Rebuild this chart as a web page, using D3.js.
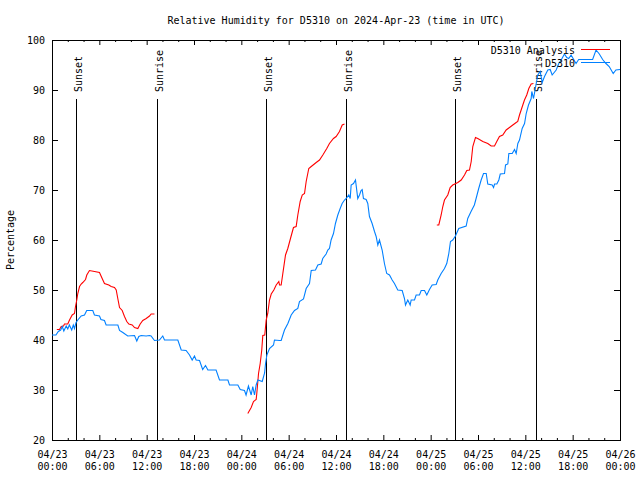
<!DOCTYPE html>
<html><head><meta charset="utf-8">
<script src="https://cdn.jsdelivr.net/npm/d3@7"></script>
<style>
body{margin:0;background:#fff}
svg{display:block}
text{font-family:"DejaVu Sans Mono",monospace;font-size:10px;fill:#000}
</style>
</head><body><svg id="c" width="640" height="480"></svg>
<script>
const title = "Relative Humidity for D5310 on 2024-Apr-23 (time in UTC)";
const yLabel = "Percentage";
const startTime = "2024-04-23T00:00:00Z";
const endTime = "2024-04-26T00:00:00Z";
const yTicks = [20, 30, 40, 50, 60, 70, 80, 90, 100];
const seriesNames = ["D5310 Analysis", "D5310"];
const seriesColors = ["#ff0000", "#0080ff"];
// sun events: hours after start
const sunHours = [2.98, 13.28, 27.1, 37.24, 51.06, 61.33];
const sunLabels = ["Sunset", "Sunrise", "Sunset", "Sunrise", "Sunset", "Sunrise"];

// observed D5310: [hours after start, RH %]
const obsSeries = [[0,41.0],[0.5,41.0],[0.8,41.7],[1.1,42.0],[1.3,42.7],[1.5,41.8],[1.8,42.8],[2.0,42.2],[2.2,43.0],[2.5,42.0],[2.7,43.0],[2.85,42.3],[3.05,43.5],[3.27,44.0],[3.7,44.8],[4.12,45.0],[4.4,45.9],[5.17,45.9],[5.38,45.0],[6.02,44.8],[6.2,44.1],[6.65,43.9],[6.86,43.0],[7.7,43.0],[8.35,43.0],[8.56,41.9],[8.98,41.5],[9.6,40.8],[10.46,40.9],[10.75,39.8],[11.0,40.7],[11.3,40.9],[11.93,40.8],[12.36,40.9],[12.56,40.8],[12.99,39.9],[13.62,40.0],[14.04,40.8],[14.26,40.0],[15.95,40.0],[16.38,38.0],[17.0,37.9],[17.43,37.0],[17.77,36.0],[18.06,36.8],[18.27,36.0],[18.7,35.9],[19.1,34.1],[19.46,34.9],[19.76,34.0],[20.8,34.0],[21.23,32.0],[22.3,32.0],[22.5,31.0],[23.56,31.0],[23.86,30.1],[24.4,29.9],[24.6,29.0],[24.9,30.8],[25.25,29.0],[25.45,30.7],[25.67,29.0],[25.88,31.0],[26.1,32.0],[26.65,31.7],[26.95,33.4],[27.07,35.3],[27.24,37.0],[27.57,38.3],[28.08,39.0],[28.2,40.0],[28.84,39.9],[29.05,39.9],[29.47,42.0],[29.9,43.3],[30.32,45.0],[30.74,45.9],[31.16,46.3],[31.37,47.7],[31.88,48.2],[32.22,50.3],[32.64,51.3],[32.86,53.9],[33.4,54.0],[33.7,55.0],[34.12,55.2],[34.32,56.3],[34.75,57.2],[34.96,58.0],[35.17,58.3],[35.38,60.0],[35.68,61.3],[35.93,63.3],[36.23,65.0],[36.53,66.3],[36.78,67.3],[37.08,68.0],[37.3,68.3],[37.62,69.0],[37.8,68.3],[37.92,71.0],[38.22,71.3],[38.47,72.0],[38.76,68.3],[38.98,69.0],[39.18,69.9],[39.32,70.1],[39.48,68.3],[39.82,68.1],[40.03,67.3],[40.24,64.7],[40.58,63.3],[40.88,61.7],[41.09,60.7],[41.3,59.0],[41.51,60.0],[41.85,58.0],[42.14,55.3],[42.43,53.3],[42.78,53.0],[43.12,52.0],[43.41,51.3],[43.83,50.0],[44.39,49.9],[44.68,48.3],[44.81,47.0],[45.1,48.0],[45.4,47.0],[45.53,48.0],[45.95,48.0],[46.16,49.0],[46.58,49.0],[46.8,49.9],[47.22,49.9],[47.51,49.0],[47.85,50.1],[48.19,51.0],[48.7,51.1],[48.9,52.0],[49.33,53.3],[49.75,54.3],[50.04,55.3],[50.3,57.3],[50.51,59.7],[50.8,60.0],[51.14,60.8],[51.56,62.3],[52.5,62.8],[52.7,64.3],[53.12,65.7],[53.54,67.0],[53.76,68.3],[54.09,70.3],[54.4,72.0],[54.7,73.3],[55.04,73.3],[55.24,71.2],[55.8,71.0],[55.97,70.5],[56.1,71.2],[56.39,71.2],[56.64,72.0],[56.82,73.2],[57.36,73.3],[57.49,75.0],[57.78,75.2],[57.91,77.3],[58.34,77.3],[58.63,78.1],[58.84,77.3],[59.05,79.3],[59.26,80.0],[59.6,82.3],[59.9,83.3],[60.11,85.3],[60.4,87.0],[60.74,88.3],[60.82,89.7],[61.04,88.3],[61.38,91.3],[61.58,93.0],[61.88,93.7],[62.14,91.5],[62.43,92.7],[62.85,94.0],[63.15,94.1],[63.4,93.0],[63.91,94.0],[64.24,95.3],[64.54,96.0],[64.96,97.2],[65.25,96.5],[65.5,96.3],[65.8,97.0],[66.13,96.1],[66.43,95.3],[66.76,96.1],[68.53,96.1],[68.96,98.0],[69.38,97.2],[69.8,96.1],[70.22,95.3],[70.63,94.7],[71.14,93.3],[71.48,94.0],[72.0,94.1]];

// analysis D5310: three runs, null marks a gap
const anaSeries = [[0.61,42.1],[0.95,42.1],[1.17,42.7],[1.46,42.8],[1.58,43.2],[2.0,43.2],[2.22,44.0],[2.56,45.0],[2.85,45.3],[2.98,46.7],[3.14,48.0],[3.27,49.3],[3.49,50.7],[3.7,51.2],[3.9,51.5],[4.25,52.1],[4.41,53.0],[4.75,53.9],[5.39,53.7],[6.02,53.5],[6.36,52.3],[6.65,51.3],[7.2,51.0],[7.5,50.7],[7.92,50.5],[8.14,50.0],[8.34,48.3],[8.56,46.5],[8.9,45.9],[9.19,44.7],[9.48,43.7],[9.74,43.2],[10.17,43.0],[10.46,42.5],[10.88,42.3],[11.18,43.2],[11.51,43.9],[11.94,44.3],[12.36,44.8],[12.57,45.2],[12.99,45.2],
[18.0,null],
[24.82,25.3],[25.25,26.5],[25.54,27.7],[25.88,28.1],[25.96,29.3],[26.18,33.3],[26.39,35.3],[26.59,38.0],[26.72,40.9],[26.97,41.0],[27.15,44.0],[27.35,45.3],[27.57,48.0],[27.79,49.2],[28.12,50.0],[28.42,51.0],[28.75,51.7],[28.84,51.0],[29.05,51.0],[29.26,53.3],[29.6,57.0],[29.89,58.3],[30.23,60.3],[30.61,62.5],[30.95,62.7],[31.16,65.0],[31.46,67.7],[31.72,69.0],[32.01,69.3],[32.22,71.7],[32.55,74.3],[32.86,74.7],[33.49,75.5],[33.91,76.0],[34.33,77.0],[34.83,78.3],[35.17,79.3],[35.68,80.3],[36.02,80.7],[36.44,81.7],[36.79,83.0],[37.08,83.2],
[42.0,null],
[48.78,63.0],[49.03,63.0],[49.33,65.0],[49.54,66.7],[49.75,68.0],[50.17,69.0],[50.47,70.5],[50.8,71.0],[51.44,71.5],[51.87,72.0],[52.29,73.0],[52.58,73.9],[52.92,74.0],[53.14,75.7],[53.34,78.7],[53.68,80.5],[53.97,80.3],[54.61,79.7],[55.24,79.3],[55.67,78.8],[56.09,78.8],[56.38,79.7],[56.72,80.7],[57.14,81.0],[57.57,82.0],[57.99,82.5],[58.41,83.0],[58.84,83.5],[59.04,83.7],[59.26,85.0],[59.47,86.0],[59.68,87.0],[59.89,88.0],[60.18,89.0],[60.44,90.3],[60.74,91.2],[61.03,91.3]];

const L = 52, R = 620, T = 40, B = 440;
const svg = d3.select("#c");
const t0 = +new Date(startTime);
const toDate = h => new Date(t0 + h * 3600000);
const x = d3.scaleUtc().domain([new Date(startTime), new Date(endTime)]).range([L, R]);
const y = d3.scaleLinear().domain([20, 100]).range([B, T]);

const majorT = d3.utcHour.every(6).range(x.domain()[0], new Date(+x.domain()[1] + 1));
const minorT = d3.utcHour.every(2).range(x.domain()[0], new Date(+x.domain()[1] + 1)).filter(d => d.getUTCHours() % 6 !== 0);

function styleAxis(g) {
  g.select(".domain").remove();
  g.attr("font-family", '"DejaVu Sans Mono",monospace').attr("font-size", 10);
  g.selectAll(".tick line").attr("stroke", "#000");
}

// x axes bottom/top
svg.append("g").attr("transform", `translate(0,${B})`)
  .call(d3.axisBottom(x).tickValues(majorT).tickSize(-5).tickFormat(d3.utcFormat("%m/%d"))).call(styleAxis)
  .call(g => g.selectAll(".tick text").each(function(d) {
    const t = d3.select(this);
    t.text(null).attr("dy", null).attr("y", null).attr("text-anchor", "middle");
    t.append("tspan").attr("x", 0).attr("y", 18).text(d3.utcFormat("%m/%d")(d));
    t.append("tspan").attr("x", 0).attr("y", 30).text(d3.utcFormat("%H:%M")(d));
  }));
svg.append("g").attr("transform", `translate(0,${B})`)
  .call(d3.axisBottom(x).tickValues(minorT).tickSize(-2).tickFormat("")).call(styleAxis);
svg.append("g").attr("transform", `translate(0,${T})`)
  .call(d3.axisTop(x).tickValues(majorT).tickSize(-5).tickFormat("")).call(styleAxis);
svg.append("g").attr("transform", `translate(0,${T})`)
  .call(d3.axisTop(x).tickValues(minorT).tickSize(-2).tickFormat("")).call(styleAxis);

// y axes
svg.append("g").attr("transform", `translate(${L},0)`)
  .call(d3.axisLeft(y).tickValues(yTicks).tickSize(-6).tickPadding(7)).call(styleAxis)
  .call(g => g.selectAll(".tick text").attr("dy", "0.35em"));
svg.append("g").attr("transform", `translate(${R},0)`)
  .call(d3.axisRight(y).tickValues(yTicks).tickSize(-6).tickFormat("")).call(styleAxis);

// frame
svg.append("rect").attr("x", L + 0.5).attr("y", T + 0.5).attr("width", R - L).attr("height", B - T)
  .attr("fill", "none").attr("stroke", "#000").attr("stroke-width", 1);

// title & y label
svg.append("text").attr("x", (L + R) / 2).attr("y", 24).attr("text-anchor", "middle").text(title);
svg.append("text").attr("transform", `translate(13.5,${(T + B) / 2}) rotate(-90)`).attr("text-anchor", "middle").text(yLabel);

// sun lines
sunHours.forEach((h, i) => {
  const sx = Math.round(x(toDate(h))) + 0.5;
  svg.append("line").attr("x1", sx).attr("x2", sx).attr("y1", 99).attr("y2", B)
    .attr("stroke", "#000").attr("stroke-width", 1);
  svg.append("text").attr("transform", `translate(${sx + 5},92) rotate(-90)`)
    .attr("text-anchor", "start").text(sunLabels[i]);
});

// series
const line = d3.line().defined(d => d[1] != null).x(d => x(toDate(d[0]))).y(d => y(d[1]));
svg.append("path").datum(anaSeries).attr("d", line).attr("fill", "none").attr("stroke", seriesColors[0]).attr("stroke-width", 1.1);
svg.append("path").datum(obsSeries).attr("d", line).attr("fill", "none").attr("stroke", seriesColors[1]).attr("stroke-width", 1.1);

// legend
const legY = [49.5, 62.5];
seriesNames.forEach((n, i) => {
  svg.append("text").attr("x", 575).attr("y", legY[i] + 4).attr("text-anchor", "end").text(n);
  svg.append("line").attr("x1", 581).attr("x2", 610).attr("y1", legY[i]).attr("y2", legY[i])
    .attr("stroke", seriesColors[i]).attr("stroke-width", 1);
});
</script>
</body></html>
